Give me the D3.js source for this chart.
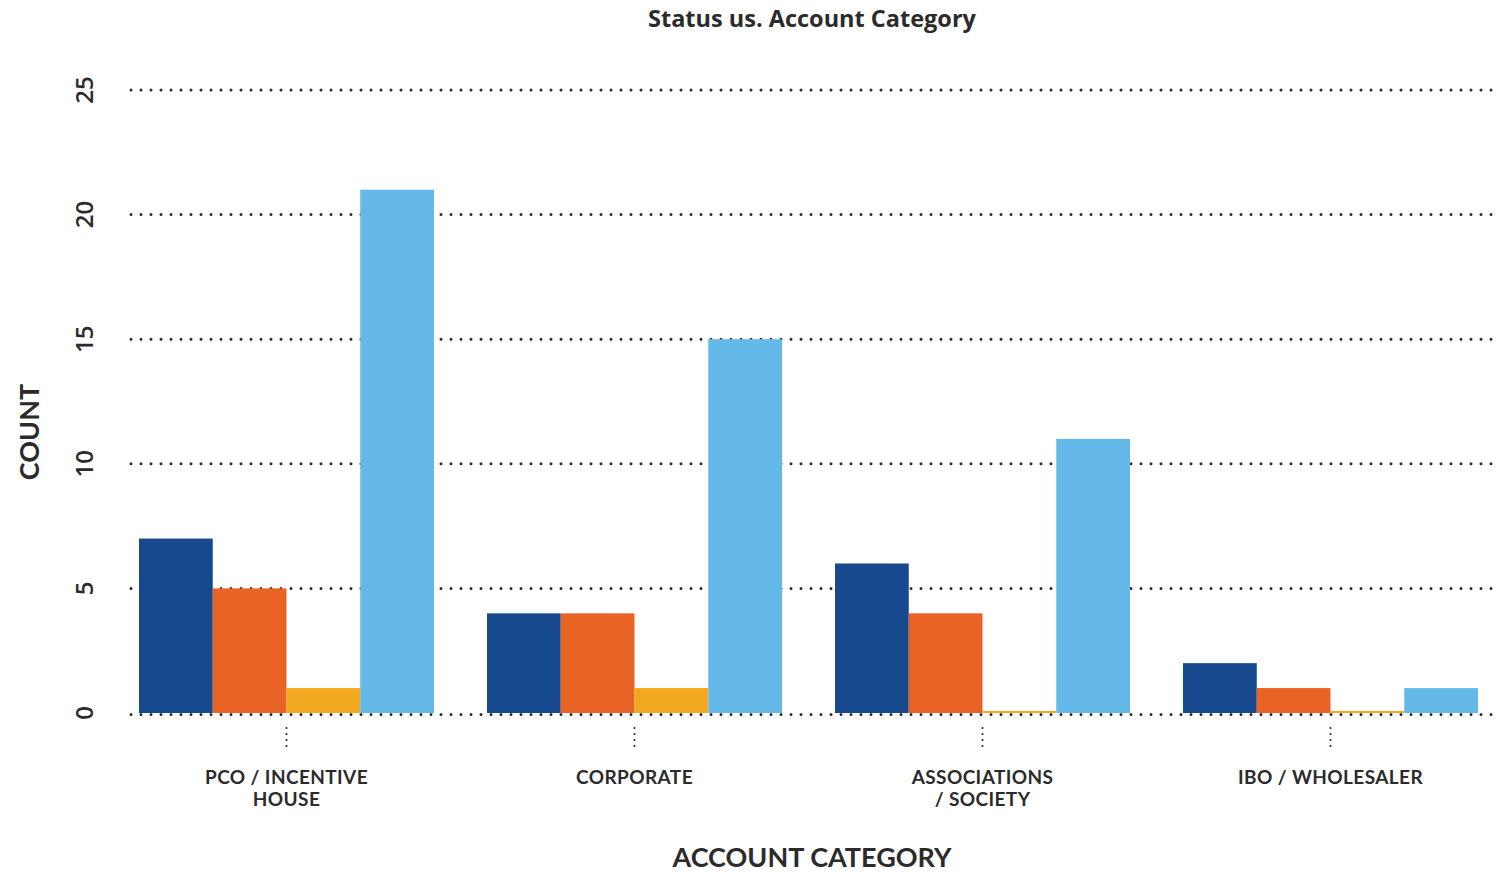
<!DOCTYPE html>
<html>
<head>
<meta charset="utf-8">
<script src="https://cdn.jsdelivr.net/npm/d3@7"></script>
<style>
  html, body { margin: 0; padding: 0; background: #fff; }
  svg { display: block; }
</style>
</head>
<body>
<svg id="chart" width="1505" height="872"></svg>
<script>
// Account categories (two-line labels) and status series
const categories = ["PCO / INCENTIVE|HOUSE", "CORPORATE", "ASSOCIATIONS|/ SOCIETY", "IBO / WHOLESALER"];
const seriesNames = ["Status A", "Status B", "Status C", "Status D"];
const seriesColors = ["#17498f", "#e96424", "#f4a81f", "#64b9e8"];
const statusA = [7, 4, 6, 2];
const statusB = [5, 4, 4, 1];
const statusC = [1, 1, 0, 0];
const statusD = [21, 15, 11, 1];
const yTicks = [0, 5, 10, 15, 20, 25];

const seriesValues = [statusA, statusB, statusC, statusD];

const svg = d3.select("#chart");
const y0 = 713, yTop = 90;
const gridLeft = 131, gridRight = 1497;

const y = d3.scaleLinear().domain([0, 25]).range([y0, yTop]);

const x = d3.scaleBand()
  .domain(categories)
  .range([112.5, 1504.5])
  .paddingInner(0.1523)
  .paddingOuter(0.0761);

const xSub = d3.scaleBand()
  .domain(seriesNames)
  .range([0, x.bandwidth()])
  .padding(0);

// Dotted horizontal gridlines (baseline drawn later, above bars)
svg.append("g")
  .selectAll("line")
  .data(yTicks.filter(d => d > 0))
  .join("line")
  .attr("x1", gridLeft).attr("x2", gridRight)
  .attr("y1", d => y(d)).attr("y2", d => y(d))
  .attr("stroke", "#2b2b2b")
  .attr("stroke-width", 3)
  .attr("stroke-linecap", "round")
  .attr("stroke-dasharray", "0 10");

// Grouped bars
const rows = categories.map((c, i) => ({
  cat: c,
  vals: seriesNames.map((s, j) => ({ s, v: seriesValues[j][i], color: seriesColors[j] }))
}));

svg.append("g")
  .selectAll("g")
  .data(rows)
  .join("g")
  .attr("transform", d => `translate(${x(d.cat)},0)`)
  .selectAll("rect")
  .data(d => d.vals)
  .join("rect")
  .attr("x", d => xSub(d.s))
  .attr("width", xSub.bandwidth())
  .attr("y", d => Math.min(y(d.v), y0 - 2))
  .attr("height", d => Math.max(y0 - y(d.v), 2))
  .attr("fill", d => d.color);

// Baseline
svg.append("line")
  .attr("x1", gridLeft).attr("x2", gridRight)
  .attr("y1", y0 + 1.5).attr("y2", y0 + 1.5)
  .attr("stroke", "#2b2b2b")
  .attr("stroke-width", 3)
  .attr("stroke-linecap", "round")
  .attr("stroke-dasharray", "0 10");

// Y tick labels (rotated)
svg.append("g")
  .selectAll("text")
  .data(yTicks)
  .join("text")
  .attr("transform", d => `translate(93,${y(d)}) rotate(-90)`)
  .attr("text-anchor", "middle")
  .attr("font-family", "'Open Sans', sans-serif")
  .attr("font-size", 24)
  .attr("font-weight", 600)
  .attr("fill", "#2b2b2b")
  .text(d => d);

// Category positions along the axis (group centre)
const labelX = d => x(d) + x.bandwidth() / 2;

// Category tick marks (short vertical dotted lines)
svg.append("g")
  .selectAll("line")
  .data(categories)
  .join("line")
  .attr("x1", labelX)
  .attr("x2", labelX)
  .attr("y1", 728).attr("y2", 747)
  .attr("stroke", "#2b2b2b")
  .attr("stroke-width", 2.2)
  .attr("stroke-linecap", "round")
  .attr("stroke-dasharray", "0 6");

// Category labels
const catLabels = svg.append("g")
  .selectAll("text")
  .data(categories)
  .join("text")
  .attr("text-anchor", "middle")
  .attr("font-family", "Lato, sans-serif")
  .attr("font-size", 19)
  .attr("font-weight", 700)
  .attr("letter-spacing", 0.4)
  .attr("fill", "#2b2b2b")
  .attr("transform", d => `translate(${labelX(d)},784)`);

catLabels.selectAll("tspan")
  .data(d => d.split("|"))
  .join("tspan")
  .attr("x", 0)
  .attr("dy", (d, i) => i === 0 ? 0 : 22)
  .text(d => d);

// Title
svg.append("text")
  .attr("x", 812).attr("y", 27)
  .attr("text-anchor", "middle")
  .attr("font-family", "'Open Sans', sans-serif")
  .attr("font-size", 23.5)
  .attr("font-weight", 700)
  .attr("fill", "#2b2b2b")
  .text("Status us. Account Category");

// Axis titles
svg.append("text")
  .attr("x", 812).attr("y", 867)
  .attr("text-anchor", "middle")
  .attr("font-family", "Lato, sans-serif")
  .attr("font-size", 27)
  .attr("font-weight", 700)
  .attr("fill", "#2b2b2b")
  .text("ACCOUNT CATEGORY");

svg.append("text")
  .attr("transform", "translate(39,432) rotate(-90)")
  .attr("text-anchor", "middle")
  .attr("font-family", "Lato, sans-serif")
  .attr("font-size", 27)
  .attr("font-weight", 700)
  .attr("fill", "#2b2b2b")
  .text("COUNT");
</script>
</body>
</html>
